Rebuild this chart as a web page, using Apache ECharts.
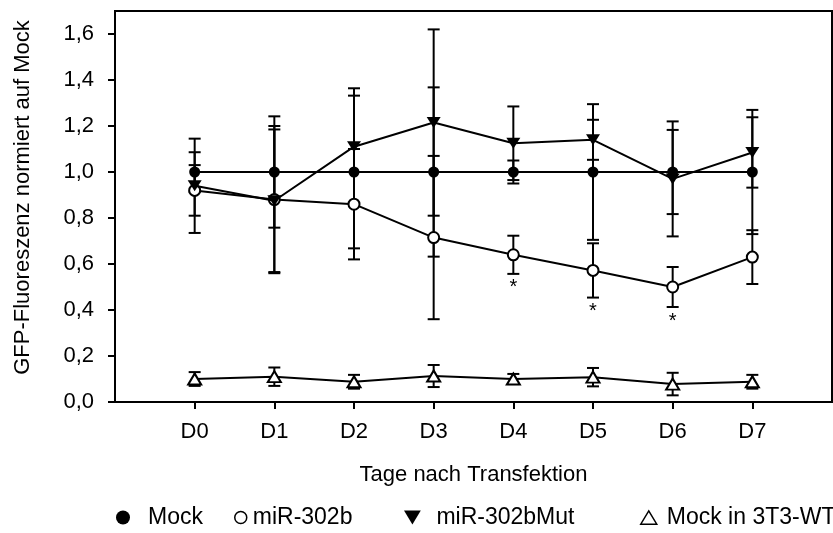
<!DOCTYPE html>
<html>
<head>
<meta charset="utf-8">
<script src="https://cdn.jsdelivr.net/npm/echarts@6/dist/echarts.min.js"></script>
<style>
  html, body { margin: 0; padding: 0; background: #fff; }
  #chart { width: 833px; height: 533px; }
</style>
</head>
<body>
<div id="chart"></div>
<script>
// Days after transfection
const days = ['D0', 'D1', 'D2', 'D3', 'D4', 'D5', 'D6', 'D7'];
const yTicks = [0, 0.2, 0.4, 0.6, 0.8, 1.0, 1.2, 1.4, 1.6];

// GFP fluorescence normalised to Mock (mean and error)
const mock = [1.0, 1.0, 1.0, 1.0, 1.0, 1.0, 1.0, 1.0];
const mockErr = [0.086, 0.242, 0.332, 0.368, 0.05, 0.295, 0.183, 0.27];

const mir302b = [0.92, 0.88, 0.86, 0.715, 0.64, 0.572, 0.50, 0.63];
const mir302bErr = [0.11, 0.32, 0.24, 0.355, 0.083, 0.118, 0.087, 0.117];
const mir302bSig = [false, false, false, false, true, true, true, false];

const mir302bMut = [0.94, 0.875, 1.11, 1.215, 1.125, 1.14, 0.97, 1.085];
const mir302bMutErr = [0.205, 0.31, 0.254, 0.405, 0.16, 0.087, 0.25, 0.153];

const mock3T3 = [0.10, 0.11, 0.088, 0.113, 0.10, 0.108, 0.078, 0.088];
const mock3T3Err = [0.03, 0.04, 0.03, 0.048, 0.022, 0.04, 0.049, 0.03];

const FONT = '"Liberation Sans", Arial, sans-serif';
const dayPos = days.map((d, i) => i);

function pairs(values) {
  return values.map((v, i) => [dayPos[i], v]);
}

function errorData(values, errs) {
  return values.map((v, i) => [dayPos[i], v - errs[i], v + errs[i]]);
}

function errorBars(name, values, errs) {
  return {
    type: 'custom',
    name: name + ' SD',
    data: errorData(values, errs),
    z: 1,
    silent: true,
    renderItem: function (params, api) {
      const lo = api.coord([api.value(0), api.value(1)]);
      const hi = api.coord([api.value(0), api.value(2)]);
      const half = 6;
      const style = { stroke: '#000', lineWidth: 2, fill: null };
      return {
        type: 'group',
        children: [
          { type: 'line', shape: { x1: hi[0], y1: hi[1], x2: lo[0], y2: lo[1] }, style: style },
          { type: 'line', shape: { x1: hi[0] - half, y1: hi[1], x2: hi[0] + half, y2: hi[1] }, style: style },
          { type: 'line', shape: { x1: lo[0] - half, y1: lo[1], x2: lo[0] + half, y2: lo[1] }, style: style }
        ]
      };
    }
  };
}

const downTriangle = 'path://M0,0 L12,0 L6,10 Z';
const upTriangle = 'path://M6,0 L12,10 L0,10 Z';

const legendText = { fontFamily: FONT, fontSize: 23, color: '#000' };

const chart = echarts.init(document.getElementById('chart'), null, { renderer: 'canvas' });

chart.setOption({
  animation: false,
  backgroundColor: '#fff',
  grid: {
    left: 115, right: 1, top: 11, bottom: 131,
    show: true, borderColor: '#000', borderWidth: 2,
    outerBoundsMode: 'none'
  },
  legend: [
    {
      left: 116, top: 506, padding: 0, selectedMode: false, itemWidth: 14, itemHeight: 14,
      data: [{ name: 'Mock', icon: 'circle', itemStyle: { color: '#000', borderWidth: 0 } }],
      textStyle: Object.assign({ padding: [0, 0, 0, 13] }, legendText)
    },
    {
      left: 234, top: 506, padding: 0, selectedMode: false, itemWidth: 12, itemHeight: 12,
      data: [{ name: 'miR-302b', icon: 'circle', itemStyle: { color: '#fff', borderColor: '#000', borderWidth: 1.5 } }],
      textStyle: Object.assign({ padding: [0, 0, 0, 1] }, legendText)
    },
    {
      left: 404, top: 506, padding: 0, selectedMode: false, itemWidth: 18, itemHeight: 14,
      data: [{ name: 'miR-302bMut', icon: downTriangle, itemStyle: { color: '#000', borderWidth: 0 } }],
      textStyle: Object.assign({ padding: [0, 0, 0, 10] }, legendText)
    },
    {
      left: 640, top: 506, padding: 0, selectedMode: false, itemWidth: 16, itemHeight: 14,
      data: [{ name: 'Mock in 3T3-WT', icon: upTriangle, itemStyle: { color: '#fff', borderColor: '#000', borderWidth: 1.5 } }],
      textStyle: Object.assign({ padding: [0, 0, 0, 5] }, legendText)
    }
  ],
  xAxis: {
    type: 'value',
    min: -1, max: 8, interval: 1,
    name: 'Tage nach Transfektion',
    nameLocation: 'middle',
    nameGap: 62,
    nameTextStyle: { fontFamily: FONT, fontSize: 22, color: '#000' },
    axisLine: { show: true, onZero: false, lineStyle: { color: '#000', width: 2 } },
    axisTick: { show: true, length: 7, inside: false, lineStyle: { color: '#000', width: 2 }, customValues: dayPos },
    axisLabel: {
      show: true, margin: 19, fontFamily: FONT, fontSize: 22, color: '#000',
      customValues: dayPos,
      formatter: function (v) { return days[Math.round(v)]; }
    },
    splitLine: { show: false }
  },
  yAxis: {
    type: 'value',
    min: 0, max: 1.7, interval: 0.2,
    name: 'GFP-Fluoreszenz normiert auf Mock',
    nameLocation: 'middle',
    nameGap: 81,
    nameTextStyle: { fontFamily: FONT, fontSize: 22, color: '#000', padding: [0, 0, 0, 18] },
    axisLine: { show: true, onZero: false, lineStyle: { color: '#000', width: 2 } },
    axisTick: { show: true, length: 7, lineStyle: { color: '#000', width: 2 }, customValues: yTicks },
    axisLabel: {
      show: true, margin: 21, fontFamily: FONT, fontSize: 22, color: '#000',
      customValues: yTicks,
      formatter: function (v) { return v.toFixed(1).replace('.', ','); }
    },
    splitLine: { show: false }
  },
  series: [
    errorBars('Mock', mock, mockErr),
    errorBars('miR-302b', mir302b, mir302bErr),
    errorBars('miR-302bMut', mir302bMut, mir302bMutErr),
    errorBars('Mock in 3T3-WT', mock3T3, mock3T3Err),
    {
      type: 'custom',
      name: 'Signifikanz',
      silent: true,
      z: 3,
      data: mir302b.map((v, i) => [dayPos[i], v - mir302bErr[i], mir302bSig[i] ? 1 : 0]),
      renderItem: function (params, api) {
        if (!api.value(2)) return null;
        const p = api.coord([api.value(0), api.value(1)]);
        return {
          type: 'text',
          x: p[0], y: p[1] + 4,
          style: { text: '*', fontFamily: FONT, fontSize: 20, fill: '#000', align: 'center', verticalAlign: 'top' }
        };
      }
    },
    {
      type: 'line', name: 'Mock', data: pairs(mock), z: 5,
      symbol: 'circle', symbolSize: 11, showAllSymbol: true,
      itemStyle: { color: '#000' },
      lineStyle: { color: '#000', width: 2 }
    },
    {
      type: 'line', name: 'miR-302b', data: pairs(mir302b), z: 6,
      symbol: 'circle', symbolSize: 11, showAllSymbol: true,
      itemStyle: { color: '#fff', borderColor: '#000', borderWidth: 2 },
      lineStyle: { color: '#000', width: 2 }
    },
    {
      type: 'line', name: 'miR-302bMut', data: pairs(mir302bMut), z: 7,
      symbol: 'triangle', symbolRotate: 180, symbolSize: [14, 11], showAllSymbol: true,
      itemStyle: { color: '#000' },
      lineStyle: { color: '#000', width: 2 }
    },
    {
      type: 'line', name: 'Mock in 3T3-WT', data: pairs(mock3T3), z: 8,
      symbol: 'triangle', symbolSize: [13, 11], showAllSymbol: true,
      itemStyle: { color: '#fff', borderColor: '#000', borderWidth: 2 },
      lineStyle: { color: '#000', width: 2 }
    }
  ]
});
</script>
</body>
</html>
